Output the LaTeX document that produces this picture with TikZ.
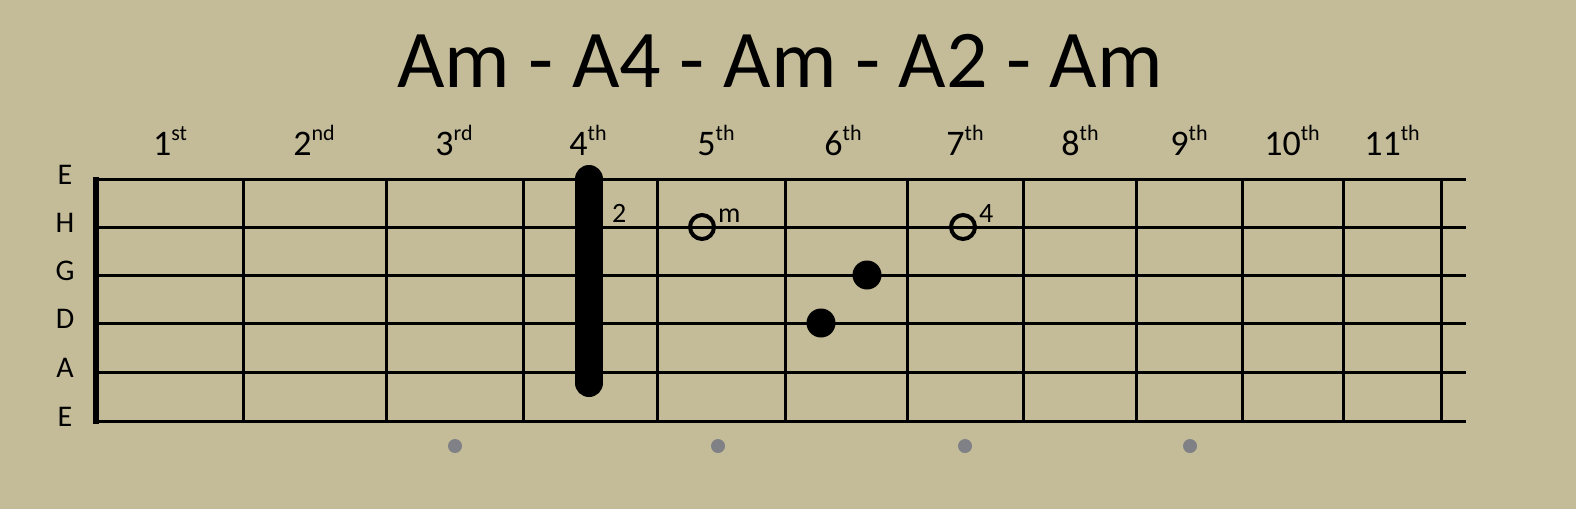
\documentclass[tikz,border=0pt]{standalone}
\usepackage{fontspec}
\setmainfont{Carlito}
\definecolor{fretbg}{RGB}{196,188,152}
\definecolor{markgray}{RGB}{128,129,134}
\newcommand{\fretnum}[2]{#1\raisebox{15pt}{\fontsize{22}{22}\selectfont #2}}

\begin{document}
\begin{tikzpicture}[x=1pt,y=-1pt,
  stringlbl/.style={font=\fontsize{30}{30}\selectfont, inner sep=0pt},
  fretlbl/.style={font=\fontsize{36}{36}\selectfont, anchor=base, inner sep=0pt},
  fingerlbl/.style={font=\fontsize{28}{28}\selectfont, anchor=base west, inner sep=0pt},
  opendot/.style={line width=4pt},
  fulldot/.style={fill=black},
  inlay/.style={fill=markgray}]
\fill[fretbg] (0,0) rectangle (1576,509);
\useasboundingbox (0,0) rectangle (1576,509);
\node[font=\fontsize{82}{82}\selectfont, anchor=base, inner sep=0pt] (title) at (780,87) {Am - A4 - Am - A2 - Am};
% strings
\foreach \y/\s [count=\i] in {179/E,227/H,275/G,323/D,372/A,421/E} {
  \draw[line width=3pt] (96,\y) -- (1466,\y);
  \node[stringlbl] (str\i) at (65,\y-4) {\s};
}
% frets and nut
\foreach \x in {243,386,523,657,785,907,1023,1136,1242,1343,1441}
  \draw[line width=3pt] (\x,179) -- (\x,421);
\draw[line width=6pt] (96,176.5) -- (96,423.5);
% fret numbers
\foreach \x/\n/\sfx [count=\i] in {170/1/st,314/2/nd,454/3/rd,588/4/th,716/5/th,843/6/th,965/7/th,1080/8/th,1189/9/th,1292/10/th,1392/11/th}
  \node[fretlbl] (fret\i) at (\x,155) {\fretnum{\n}{\sfx}};
% barre
\draw[line width=28pt, line cap=round] (589,179) -- (589,383);
\node[fingerlbl] (barrelbl) at (612,222) {2};
% fingers
\draw[opendot] (702,227) circle (12);
\node[fingerlbl] (mlbl) at (718,222) {m};
\draw[opendot] (963,227) circle (12);
\node[fingerlbl] (fourlbl) at (979,222) {4};
\fill[fulldot] (867,275) circle (14.5);
\fill[fulldot] (821,323) circle (14.5);
% inlays
\foreach \x in {455,718,965,1190}
  \fill[inlay] (\x,446) circle (7);
\end{tikzpicture}
\end{document}
